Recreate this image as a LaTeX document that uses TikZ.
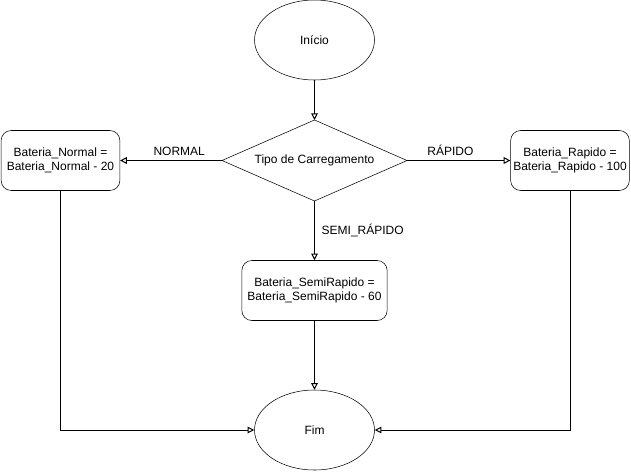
\documentclass[tikz,border=0pt]{standalone}
\usepackage{fontspec}
\setmainfont{Liberation Sans}
\usetikzlibrary{shapes.geometric,arrows.meta}
\begin{document}
\begin{tikzpicture}[x=0.75pt,y=-0.75pt,
  every node/.style={font=\fontsize{9}{10.5}\selectfont, inner sep=0pt},
  term/.style={draw, ellipse, minimum width=90pt, minimum height=60pt},
  proc/.style={draw, rounded corners=7.5pt, minimum height=45pt, align=center},
  conn/.style={draw, line width=0.75pt, -{Triangle[width=5pt,length=5pt,open=false]}}]
\useasboundingbox (0,0) rectangle (631,471);
\node[term] (ini) at (314.5,40) {Início};
\path[draw] (222,160.5) coordinate (dl) -- (314.5,120) coordinate (dt) -- (407,160.5) coordinate (dr) -- (314.5,201) coordinate (db) -- cycle;
\node (dec) at (314.5,160.5) {Tipo de Carregamento};
\node[proc, minimum width=89pt] (bn) at (60.5,160.5) {Bateria\_Normal =\\Bateria\_Normal - 20};
\node[proc, minimum width=89pt] (br) at (570,160.5) {Bateria\_Rapido =\\Bateria\_Rapido - 100};
\node[proc, minimum width=109pt] (bs) at (314.5,290.5) {Bateria\_SemiRapido =\\Bateria\_SemiRapido - 60};
\node[term] (fim) at (314.5,430) {Fim};
\draw[conn] (ini) -- (dt);
\draw[conn] (dl) -- node[pos=0.42, above=3pt] (lnormal) {NORMAL} (bn);
\draw[conn] (dr) -- node[pos=0.42, above=3pt] (lrapido) {RÁPIDO} (br);
\draw[conn] (db) -- node[right=5pt] (lsemi) {SEMI\_RÁPIDO} (bs);
\draw[conn] (bs) -- (fim);
\draw[conn] (bn.south) |- (fim.west);
\draw[conn] (br.south) |- (fim.east);
\end{tikzpicture}
\end{document}
